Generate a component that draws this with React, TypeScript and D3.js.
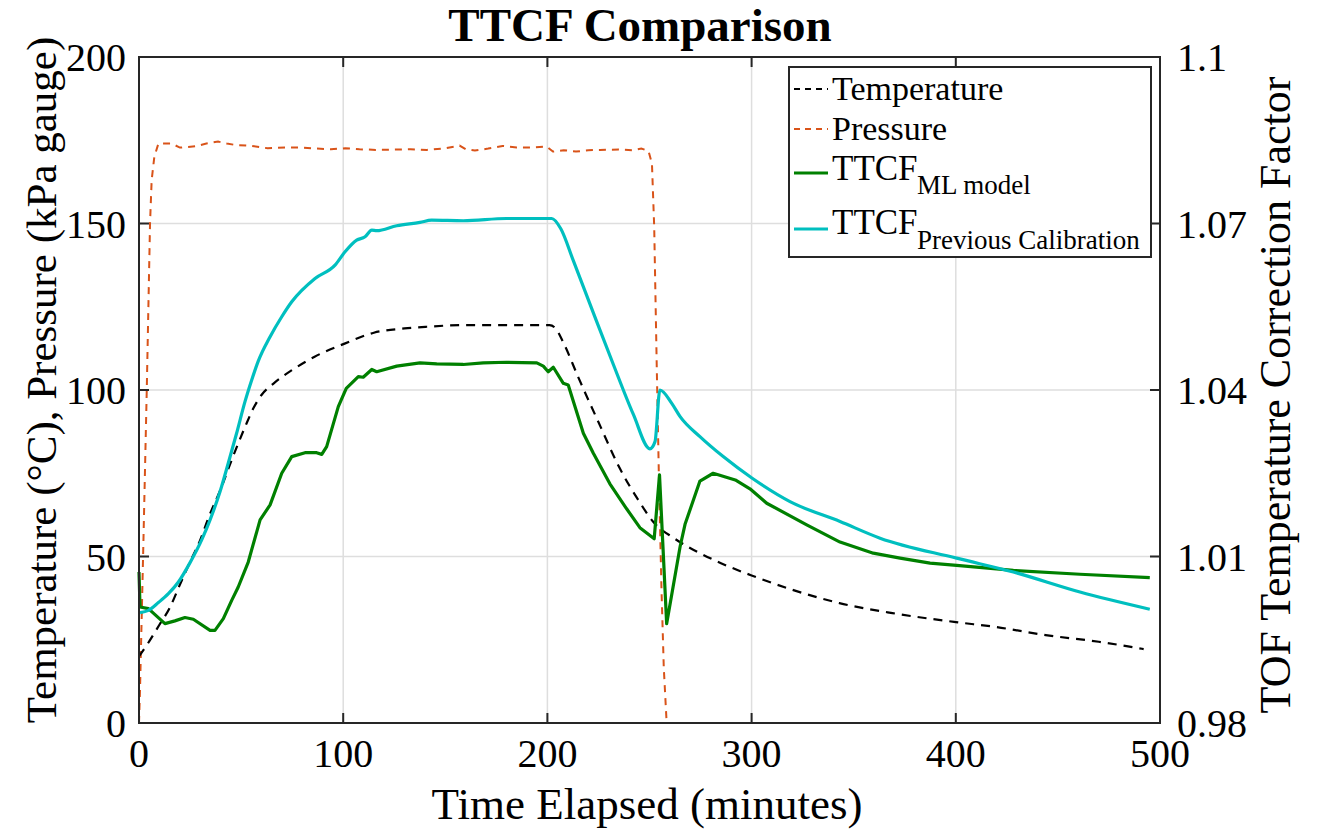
import React from "react";
import * as d3 from "d3";

// ---------- data ----------
const tempTime = [0, 5, 10, 15, 20, 25, 30, 34, 40.5, 45.4, 52, 56, 60, 66, 75, 86, 101, 115, 130, 141, 160, 201, 204, 208, 215, 226, 235, 245, 251.7, 262, 274.7, 285, 300, 320, 343, 369, 400, 420, 444, 470, 492];
const tempValue = [20, 24.5, 29.5, 34.5, 41.5, 48.4, 55, 61.6, 71, 79, 89, 94.5, 98.5, 102, 106, 110, 114, 117.2, 118.5, 119, 119.5, 119.5, 118.5, 114, 104, 89, 77, 66.5, 60.5, 55.5, 51, 48, 44.3, 40, 36, 33, 30.3, 28.8, 26.4, 24.4, 22.2];

const presTime = [0, 0.5, 2, 3.8, 5.4, 6.2, 7.5, 9.5, 13, 16, 20, 24, 28, 33, 38.7, 43, 47, 55, 63, 72, 80, 87, 94, 101, 108, 116, 125, 133, 141, 150, 157, 160, 164.5, 171, 178, 185, 192, 199.7, 202.7, 208, 214, 220, 225.7, 235, 242, 246, 249.5, 251.2, 252.3, 253.5, 254.6, 255.9, 257, 258.4, 500];
const presValue = [0, 10, 50, 100, 150, 163, 170, 174, 174, 174, 172.8, 173, 173.2, 174, 174.6, 174, 173.6, 173.3, 172.6, 172.8, 172.8, 172.5, 172.3, 172.6, 172.3, 172.1, 172.2, 172.3, 172.1, 172.6, 173.4, 172.3, 171.9, 172.5, 173.3, 172.8, 172.8, 173.1, 171.6, 172, 171.6, 172, 172.1, 172.2, 172, 172.5, 171.8, 168, 149, 108.7, 74, 39.5, 16.5, 0, 0];

const mlTime = [0, 0.5, 4.6, 12.7, 17.6, 22.5, 26.6, 34.8, 37.2, 41.3, 45.4, 48.6, 53.5, 59.3, 64.2, 69.9, 74.8, 81.3, 87, 89.5, 91.9, 97.6, 101.5, 107.4, 109.8, 114, 116.4, 126.2, 137.6, 145.8, 158.8, 168.6, 180, 194.8, 198, 200.4, 202.9, 207.8, 210.2, 217.6, 222.5, 230.6, 238.8, 245.3, 252.3, 254.9, 258.4, 265, 267.4, 274.7, 281.2, 292, 299.2, 307.4, 327, 343.3, 359.6, 372.7, 387.4, 400.4, 428.2, 460.8, 495];
const mlValue = [1.0072, 1.0009, 1.0006, 0.9979, 0.9984, 0.999, 0.9987, 0.9967, 0.9967, 0.9988, 1.0021, 1.0045, 1.009, 1.0166, 1.0193, 1.025, 1.028, 1.0287, 1.0287, 1.0284, 1.0298, 1.037, 1.0403, 1.0424, 1.0423, 1.0437, 1.0433, 1.0443, 1.0449, 1.0447, 1.0446, 1.0449, 1.045, 1.0449, 1.0443, 1.0433, 1.0441, 1.0412, 1.0409, 1.0322, 1.0286, 1.0231, 1.0186, 1.0152, 1.0132, 1.0247, 0.9979, 1.0118, 1.0158, 1.0236, 1.025, 1.0238, 1.0222, 1.0196, 1.0157, 1.0126, 1.0106, 1.0097, 1.0088, 1.0084, 1.0075, 1.0068, 1.0062];

const prevTime = [0.5, 4.6, 9.5, 14.4, 19.3, 25, 30.7, 34.8, 39.7, 43.7, 47.8, 51.9, 55.2, 58.4, 64.2, 69.9, 74.8, 86.2, 96, 100.9, 106.6, 110.7, 114, 116.4, 126.2, 137.6, 143.3, 158.8, 180, 202.1, 206.5, 212.7, 222.5, 232.3, 242.1, 250.2, 252.7, 255.1, 260.9, 265, 274.7, 286.1, 300.3, 318.8, 343.3, 362.9, 400.4, 428.2, 460.8, 495];
const prevValue = [0.9999, 1.0003, 1.0017, 1.0033, 1.0054, 1.0089, 1.013, 1.0166, 1.0217, 1.0268, 1.0322, 1.0379, 1.0418, 1.0452, 1.0496, 1.0532, 1.0559, 1.0601, 1.0625, 1.0649, 1.067, 1.0676, 1.0688, 1.0687, 1.0696, 1.0702, 1.0706, 1.0705, 1.0709, 1.0709, 1.0691, 1.0633, 1.0539, 1.0446, 1.0356, 1.0294, 1.0307, 1.04, 1.0376, 1.0352, 1.0316, 1.028, 1.0241, 1.0199, 1.0163, 1.0133, 1.0097, 1.0072, 1.0036, 1.0005];

const xTicks = [0, 100, 200, 300, 400, 500];
const yLeftTicks = [0, 50, 100, 150, 200];
const yRightTicks = [0.98, 1.01, 1.04, 1.07, 1.1];
const yRightLabels = ["0.98", "1.01", "1.04", "1.07", "1.1"];

const FONT = "'Liberation Serif', 'Times New Roman', serif";

export default function App() {
  const L = 139, R = 1160, T = 57, B = 723;
  const x = d3.scaleLinear().domain([0, 500]).range([L, R]);
  const yL = d3.scaleLinear().domain([0, 200]).range([B, T]);
  const yR = d3.scaleLinear().domain([0.98, 1.1]).range([B, T]);

  const mk = (xs: number[], ys: number[], sy: d3.ScaleLinear<number, number>, curve: d3.CurveFactory) =>
    d3.line<number>().x((_, i) => x(xs[i])).y((_, i) => sy(ys[i])).curve(curve)(xs) || "";

  const tempPath = mk(tempTime, tempValue, yL, d3.curveMonotoneX);
  const presPath = mk(presTime, presValue, yL, d3.curveLinear);
  const mlPath = mk(mlTime, mlValue, yR, d3.curveLinear);
  const prevPath = mk(prevTime, prevValue, yR, d3.curveMonotoneX);

  const gridColor = "#dedede";
  const axisColor = "#262626";
  const tickLen = 10;

  return (
    <svg width={1317} height={832} style={{ position: "absolute", left: 0, top: 0, background: "#fff" }} fontFamily={FONT}>
      <rect x={0} y={0} width={1317} height={832} fill="#fff" />
      {/* grid */}
      {xTicks.slice(1, -1).map((t) => (
        <line key={"gx" + t} x1={x(t)} x2={x(t)} y1={T} y2={B} stroke={gridColor} strokeWidth={1.5} />
      ))}
      {yLeftTicks.slice(1, -1).map((t) => (
        <line key={"gy" + t} x1={L} x2={R} y1={yL(t)} y2={yL(t)} stroke={gridColor} strokeWidth={1.5} />
      ))}

      {/* data */}
      <path d={presPath} fill="none" stroke="#D95319" strokeWidth={2} strokeDasharray="7,6" />
      <path d={tempPath} fill="none" stroke="#000" strokeWidth={2.2} strokeDasharray="9,7" />
      <path d={mlPath} fill="none" stroke="#008000" strokeWidth={3.2} strokeLinejoin="round" />
      <path d={prevPath} fill="none" stroke="#00BFBF" strokeWidth={3.2} strokeLinejoin="round" />

      {/* axes box */}
      <rect x={L} y={T} width={R - L} height={B - T} fill="none" stroke={axisColor} strokeWidth={2} />
      {xTicks.map((t) => (
        <g key={"xt" + t}>
          <line x1={x(t)} x2={x(t)} y1={B} y2={B - tickLen} stroke={axisColor} strokeWidth={2} />
          <line x1={x(t)} x2={x(t)} y1={T} y2={T + tickLen} stroke={axisColor} strokeWidth={2} />
          <text x={x(t)} y={767} fontSize={40} textAnchor="middle" fill="#000">{t}</text>
        </g>
      ))}
      {yLeftTicks.map((t) => (
        <g key={"yl" + t}>
          <line x1={L} x2={L + tickLen} y1={yL(t)} y2={yL(t)} stroke={axisColor} strokeWidth={2} />
          <text x={126} y={yL(t) + 14} fontSize={40} textAnchor="end" fill="#000">{t}</text>
        </g>
      ))}
      {yRightTicks.map((t, i) => (
        <g key={"yr" + t}>
          <line x1={R} x2={R - tickLen} y1={yR(t)} y2={yR(t)} stroke={axisColor} strokeWidth={2} />
          <text x={1177} y={yR(t) + 14} fontSize={40} textAnchor="start" fill="#000">{yRightLabels[i]}</text>
        </g>
      ))}

      {/* titles */}
      <text x={640} y={41} fontSize={47} fontWeight="bold" textAnchor="middle" fill="#000">TTCF Comparison</text>
      <text x={647} y={819} fontSize={45} textAnchor="middle" fill="#000">Time Elapsed (minutes)</text>
      <text transform={`translate(56,380) rotate(-90)`} fontSize={43} textAnchor="middle" fill="#000">Temperature (°C), Pressure (kPa gauge)</text>
      <text transform={`translate(1290,395) rotate(-90)`} fontSize={44} textAnchor="middle" fill="#000">TOF Temperature Correction Factor</text>

      {/* legend */}
      <rect x={789} y={67} width={362} height={190} fill="#fff" stroke={axisColor} strokeWidth={2} />
      <line x1={794} x2={828} y1={89} y2={89} stroke="#000" strokeWidth={2} strokeDasharray="6,5" />
      <text x={832} y={100} fontSize={34} fill="#000">Temperature</text>
      <line x1={794} x2={828} y1={129} y2={129} stroke="#D95319" strokeWidth={2} strokeDasharray="6,5" />
      <text x={832} y={140} fontSize={34} fill="#000">Pressure</text>
      <line x1={794} x2={828} y1={173} y2={173} stroke="#008000" strokeWidth={3} />
      <text x={832} y={180} fontSize={35} fill="#000">TTCF</text>
      <text x={917} y={194} fontSize={27} fill="#000">ML model</text>
      <line x1={794} x2={828} y1={229} y2={229} stroke="#00BFBF" strokeWidth={3} />
      <text x={832} y={234} fontSize={35} fill="#000">TTCF</text>
      <text x={917} y={249} fontSize={27} fill="#000">Previous Calibration</text>
    </svg>
  );
}
